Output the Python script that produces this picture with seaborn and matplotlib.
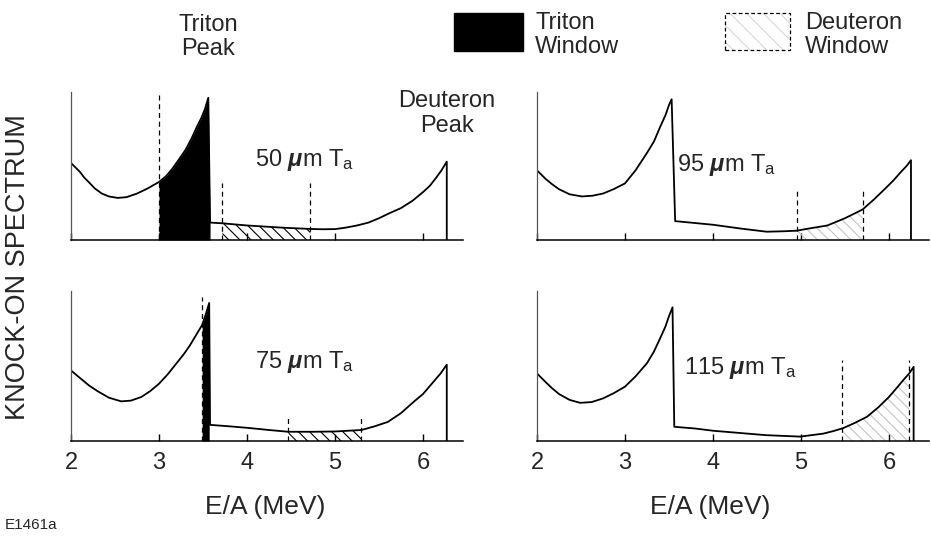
"""
    Knock-on spectrum panels for four Ta thicknesses, with triton and deuteron windows.
"""

import numpy as np
import pandas as pd
import seaborn as sns
import matplotlib.pyplot as plt
from matplotlib.patches import Rectangle

# spectrum (E/A in MeV, arbitrary height)
energy_50 = [2.00, 2.05, 2.10, 2.15, 2.20, 2.27, 2.35, 2.43, 2.53, 2.63, 2.75, 2.87, 3.00,
             3.08, 3.15, 3.22, 3.30, 3.37, 3.43, 3.48, 3.52, 3.56, 3.58, 3.72, 4.00, 4.40,
             4.72, 4.86, 5.00, 5.12, 5.25, 5.38, 5.50, 5.62, 5.75, 5.88, 6.00, 6.08, 6.15,
             6.21, 6.27, 6.27]
spectrum_50 = [0.53, 0.50, 0.47, 0.43, 0.40, 0.355, 0.32, 0.30, 0.29, 0.295, 0.32, 0.355, 0.40,
               0.44, 0.49, 0.55, 0.62, 0.70, 0.78, 0.84, 0.90, 0.98, 0.12, 0.115, 0.10, 0.085,
               0.076, 0.074, 0.075, 0.085, 0.10, 0.12, 0.15, 0.185, 0.22, 0.27, 0.33, 0.375, 0.43,
               0.48, 0.54, 0.0]

energy_95 = [2.00, 2.05, 2.10, 2.17, 2.25, 2.37, 2.51, 2.63, 2.75, 2.87, 3.00, 3.12, 3.25,
             3.33, 3.40, 3.46, 3.50, 3.53, 3.57, 4.00, 4.30, 4.61, 4.80, 4.95, 5.10, 5.30,
             5.50, 5.70, 5.83, 5.95, 6.05, 6.13, 6.20, 6.25, 6.25]
spectrum_95 = [0.48, 0.45, 0.42, 0.385, 0.35, 0.315, 0.30, 0.305, 0.32, 0.35, 0.39, 0.48, 0.60,
               0.68, 0.78, 0.86, 0.93, 0.97, 0.13, 0.105, 0.08, 0.057, 0.06, 0.064, 0.08, 0.10,
               0.15, 0.21, 0.28, 0.35, 0.41, 0.465, 0.51, 0.55, 0.0]

energy_75 = [2.00, 2.05, 2.10, 2.20, 2.30, 2.43, 2.57, 2.68, 2.80, 2.90, 3.00, 3.10, 3.20,
             3.28, 3.35, 3.42, 3.49, 3.53, 3.57, 3.58, 3.80, 4.00, 4.25, 4.47, 4.75, 5.00,
             5.15, 5.30, 5.45, 5.60, 5.75, 5.90, 6.00, 6.10, 6.20, 6.27, 6.27]
spectrum_75 = [0.48, 0.455, 0.43, 0.38, 0.34, 0.295, 0.27, 0.275, 0.30, 0.34, 0.39, 0.455, 0.53,
               0.59, 0.65, 0.72, 0.79, 0.86, 0.94, 0.11, 0.10, 0.09, 0.075, 0.063, 0.063, 0.065,
               0.07, 0.075, 0.10, 0.13, 0.19, 0.27, 0.32, 0.39, 0.46, 0.52, 0.0]

energy_115 = [2.00, 2.05, 2.10, 2.17, 2.25, 2.37, 2.49, 2.62, 2.75, 2.87, 3.00, 3.12, 3.25,
              3.33, 3.40, 3.46, 3.50, 3.54, 3.56, 3.80, 4.00, 4.30, 4.60, 4.99, 5.12, 5.25,
              5.37, 5.48, 5.60, 5.75, 5.88, 6.00, 6.10, 6.17, 6.23, 6.28, 6.28]
spectrum_115 = [0.46, 0.43, 0.40, 0.36, 0.32, 0.28, 0.26, 0.265, 0.29, 0.325, 0.37, 0.44, 0.53,
                0.61, 0.70, 0.78, 0.85, 0.91, 0.097, 0.085, 0.07, 0.055, 0.04, 0.03, 0.04, 0.05,
                0.068, 0.088, 0.12, 0.165, 0.23, 0.30, 0.37, 0.42, 0.46, 0.505, 0.0]

thickness_labels = ["50", "95", "75", "115"]

# windows (low, high) in MeV; None where not drawn
triton_windows = [(3.00, 3.58), None, (3.49, 3.57), None]
deuteron_windows = [(3.72, 4.72), (4.95, 5.70), (4.47, 5.30), (5.48, 6.23)]

# dashed marker lines: positions and heights
marker_pos = [[3.00, 3.72, 4.72], [4.95, 5.70], [3.49, 4.47, 5.30], [5.47, 6.23]]
marker_top = [[1.00, 0.39, 0.39], [0.345, 0.36], [0.98, 0.18, 0.18], [0.55, 0.55]]

x_ticks = [2, 3, 4, 5, 6]

sns.set_theme(style="white")
plt.rcParams["font.family"] = ["Liberation Sans", "DejaVu Sans"]
plt.rcParams["mathtext.fontset"] = "custom"
plt.rcParams["mathtext.rm"] = "Liberation Sans"
plt.rcParams["mathtext.it"] = "Liberation Sans:italic"
plt.rcParams["mathtext.bf"] = "Liberation Sans:bold:italic"
plt.rcParams["hatch.linewidth"] = 0.8

FS = 17


def draw_panel(ax, energy, spectrum, label, triton, deuteron, pos, tops, light, show_labels, lab_xy):
    """
        Draws one spectrum panel with its windows.
    """
    df = pd.DataFrame({"E": energy, "S": spectrum})
    e = np.array(energy)
    s = np.array(spectrum)

    if triton is not None:
        m = (e >= triton[0]) & (e <= triton[1])
        ax.fill_between(e[m], 0, s[m], color="black", lw=0)

    m = (e >= deuteron[0]) & (e <= deuteron[1])
    ax.fill_between(e[m], 0, s[m], facecolor="none", lw=0,
                    edgecolor="#c4c4c4" if light else "black", hatch="\\\\\\")

    sns.lineplot(data=df, x="E", y="S", sort=False, estimator=None,
                 color="black", lw=1.3, ax=ax)

    ax.vlines(pos, 0, tops, colors="black", lw=0.9, linestyles=(0, (4, 3)))

    ax.text(lab_xy[0], lab_xy[1], rf"{label} $\mathbf{{\mu}}$m T$_{{\mathrm{{a}}}}$",
            fontsize=FS, ha="center", va="center")

    ax.set_xlim(2, 6.45)
    ax.set_ylim(0, 1.02)
    ax.set_xticks(x_ticks)
    ax.set_yticks([])
    ax.set_xlabel("")
    ax.set_ylabel("")
    ax.tick_params(axis="x", direction="in", length=5, width=1, bottom=True,
                   color="black", labelsize=FS, pad=8, labelbottom=show_labels)
    sns.despine(ax=ax)
    ax.spines["left"].set_color("#555555")
    ax.spines["left"].set_linewidth(0.9)
    ax.spines["bottom"].set_color("black")
    ax.spines["bottom"].set_linewidth(1.1)
    ax.set_facecolor("none")


fig = plt.figure(figsize=(9.31, 5.41), dpi=100)

w = 0.4206
axes = [
    fig.add_axes([0.0763, 0.5564, w, 0.2736]),
    fig.add_axes([0.5768, 0.5564, w, 0.2736]),
    fig.add_axes([0.0763, 0.1848, w, 0.2770]),
    fig.add_axes([0.5768, 0.1848, w, 0.2770]),
]

energies = [energy_50, energy_95, energy_75, energy_115]
spectra = [spectrum_50, spectrum_95, spectrum_75, spectrum_115]
label_pos = [(4.66, 0.55), (4.16, 0.52), (4.66, 0.54), (4.31, 0.50)]

for i, ax in enumerate(axes):
    draw_panel(ax, energies[i], spectra[i], thickness_labels[i], triton_windows[i],
               deuteron_windows[i], marker_pos[i], marker_top[i], light=(i % 2 == 1),
               show_labels=(i >= 2), lab_xy=label_pos[i])

axes[0].text(3.56, 1.40, "Triton\nPeak", fontsize=FS, ha="center", va="center",
             linespacing=1.15, clip_on=False)
axes[0].text(6.27, 0.87, "Deuteron\nPeak", fontsize=FS, ha="center", va="center",
             linespacing=1.15, clip_on=False)

# legend boxes
fig.patches.append(Rectangle((0.4877, 0.9057), 0.0741, 0.0702, transform=fig.transFigure,
                             facecolor="black", edgecolor="black"))
fig.patches.append(Rectangle((0.7787, 0.9076), 0.0698, 0.0684, transform=fig.transFigure,
                             facecolor="white", edgecolor="#d8d8d8", lw=0, hatch="\\\\"))
fig.patches.append(Rectangle((0.7787, 0.9076), 0.0698, 0.0684, transform=fig.transFigure,
                             facecolor="none", edgecolor="black", lw=0.9,
                             linestyle=(0, (3, 2))))
fig.text(0.5747, 0.977, "Triton\nWindow", fontsize=FS, ha="left", va="top", linespacing=1.1)
fig.text(0.8647, 0.977, "Deuteron\nWindow", fontsize=FS, ha="left", va="top", linespacing=1.1)

fig.text(0.0193, 0.5065, "KNOCK-ON SPECTRUM", fontsize=19.5, rotation=90,
         ha="center", va="center")
fig.text(0.2846, 0.0628, "E/A (MeV)", fontsize=19, ha="center", va="center")
fig.text(0.7626, 0.0628, "E/A (MeV)", fontsize=19, ha="center", va="center")
fig.text(0.005, 0.0296, "E1461a", fontsize=11, ha="left", va="center")

fig.savefig("out.png", dpi=100)
plt.close(fig)
